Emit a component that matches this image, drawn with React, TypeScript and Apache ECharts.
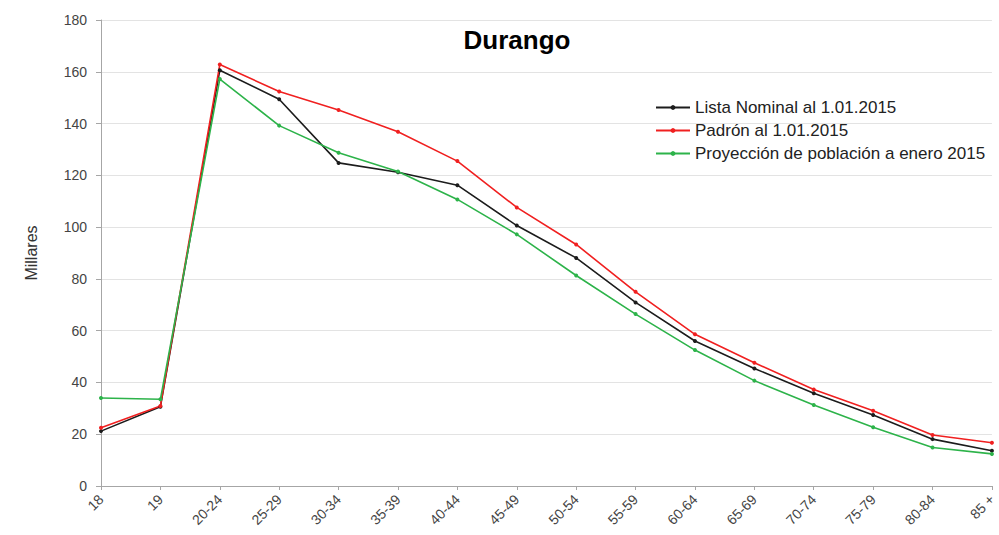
import React, { useEffect, useRef } from "react";
import * as echarts from "echarts";

const categories = ["18", "19", "20-24", "25-29", "30-34", "35-39", "40-44", "45-49", "50-54", "55-59", "60-64", "65-69", "70-74", "75-79", "80-84", "85 +"];
const listaNominal = [21.2, 30.6, 160.6, 149.4, 124.8, 121.2, 116.2, 100.6, 88.1, 70.9, 56.0, 45.4, 35.8, 27.4, 18.1, 13.6];
const padron = [22.5, 30.9, 162.8, 152.4, 145.2, 136.8, 125.5, 107.6, 93.3, 75.0, 58.6, 47.6, 37.3, 29.1, 19.7, 16.7];
const proyeccion = [34.0, 33.5, 157.2, 139.2, 128.7, 121.5, 110.7, 97.2, 81.3, 66.4, 52.5, 40.7, 31.3, 22.7, 14.9, 12.4];
const seriesNames = ["Lista Nominal al 1.01.2015", "Padrón al 1.01.2015", "Proyección de población a enero 2015"];
const colors = ["#1c1c1c", "#f02020", "#2db34a"];

export default function App() {
  const ref = useRef<HTMLDivElement>(null);
  useEffect(() => {
    if (!ref.current) return;
    const chart = echarts.init(ref.current, null, { renderer: "svg" });
    const font = "Liberation Sans";
    const mk = (name: string, data: number[], color: string) => ({
      name,
      type: "line",
      data,
      symbol: "circle",
      symbolSize: 4,
      lineStyle: { color, width: 1.6 },
      itemStyle: { color },
    });
    chart.setOption({
      animation: false,
      backgroundColor: "#ffffff",
      title: {
        text: "Durango",
        left: 512,
        textAlign: "center",
        top: 22,
        textStyle: { fontFamily: font, fontSize: 26, fontWeight: "bold", color: "#000" },
      },
      legend: {
        orient: "vertical",
        left: 650,
        top: 94,
        itemWidth: 34,
        itemHeight: 6,
        itemGap: 6,
        textStyle: { fontFamily: font, fontSize: 17, color: "#222" },
        data: seriesNames,
      },
      grid: { left: 101, right: 3, top: 20, bottom: 49, containLabel: false },
      xAxis: {
        type: "category",
        data: categories,
        boundaryGap: false,
        axisLine: { lineStyle: { color: "#a6a6a6" } },
        axisTick: { show: true, length: 4, lineStyle: { color: "#a6a6a6" } },
        axisLabel: { rotate: 45, fontFamily: font, fontSize: 14, color: "#444", margin: 11, interval: 0 },
      },
      yAxis: {
        type: "value",
        min: 0,
        max: 180,
        interval: 20,
        name: "Millares",
        nameLocation: "middle",
        nameGap: 62,
        nameTextStyle: { fontFamily: font, fontSize: 16, color: "#333" },
        axisLine: { show: true, lineStyle: { color: "#a6a6a6" } },
        axisTick: { show: true, length: 5, lineStyle: { color: "#a6a6a6" } },
        axisLabel: { fontFamily: font, fontSize: 14, color: "#444", margin: 14 },
        splitLine: { lineStyle: { color: "#e3e3e3" } },
      },
      series: [
        mk(seriesNames[0], listaNominal, colors[0]),
        mk(seriesNames[1], padron, colors[1]),
        mk(seriesNames[2], proyeccion, colors[2]),
      ],
    });
    return () => chart.dispose();
  }, []);
  return <div ref={ref} style={{ width: 999, height: 535, position: "absolute", left: 0, top: 0 }} />;
}
